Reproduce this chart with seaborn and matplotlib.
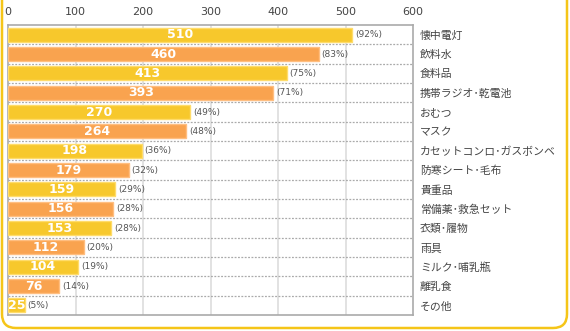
import matplotlib
matplotlib.use("Agg")
import matplotlib.pyplot as plt
import seaborn as sns
import pandas as pd
from matplotlib.patches import FancyBboxPatch

categories = ["懐中電灯", "飲料水", "食料品", "携帯ラジオ･乾電池", "おむつ", "マスク",
              "カセットコンロ･ガスボンベ", "防寒シート･毛布", "貴重品", "常備薬･救急セット",
              "衣類･履物", "雨具", "ミルク･哺乳瓶", "離乳食", "その他"]
values = [510, 460, 413, 393, 270, 264, 198, 179, 159, 156, 153, 112, 104, 76, 25]
percents = ["(92%)", "(83%)", "(75%)", "(71%)", "(49%)", "(48%)", "(36%)", "(32%)", "(29%)",
            "(28%)", "(28%)", "(20%)", "(19%)", "(14%)", "(5%)"]
xticks = [0, 100, 200, 300, 400, 500, 600]

YELLOW = "#F7C82C"
ORANGE = "#F9A34F"
colors = [YELLOW if i % 2 == 0 else ORANGE for i in range(len(categories))]

df = pd.DataFrame({"cat": categories, "val": values})

sns.set_theme(style="white")
plt.rcParams["font.family"] = ["Noto Sans CJK JP", "DejaVu Sans"]

fig = plt.figure(figsize=(5.70, 3.31), dpi=100)

# background frame axes in pixel coordinates
bg = fig.add_axes([0, 0, 1, 1], zorder=0)
bg.set_xlim(0, 570)
bg.set_ylim(331, 0)
bg.axis("off")
frame = FancyBboxPatch((2, -30), 565, 358,
                       boxstyle="round,pad=0,rounding_size=14",
                       fill=False, edgecolor="#F5C518", linewidth=1.8)
bg.add_patch(frame)

ax = fig.add_axes([8 / 570, 1 - 315 / 331, (413 - 8) / 570, (315 - 25) / 331], zorder=1)
ax.patch.set_alpha(0)

sns.barplot(data=df, x="val", y="cat", hue="cat", palette=colors, legend=False,
            orient="h", width=0.72, ax=ax, zorder=3, saturation=1)
for patch, c in zip(ax.patches, colors):
    patch.set_edgecolor("#FFDC6A" if c == YELLOW else "#FFBE80")
    patch.set_linewidth(1.0)

ax.set_xlim(0, 600)
ax.set_ylim(len(categories) - 0.5, -0.5)
ax.xaxis.tick_top()
ax.set_xticks(xticks)
ax.set_xticklabels([str(t) for t in xticks], fontsize=8, color="#444444", family="DejaVu Sans")
ax.tick_params(axis="x", length=0, pad=6)
ax.set_xlabel("")
ax.set_ylabel("")
ax.set_yticks(range(len(categories)))
ax.yaxis.tick_right()
ax.set_yticklabels(categories, fontsize=7.8, color="#444444")
ax.tick_params(axis="y", length=0, pad=5)

# grid lines
for t in xticks[1:-1]:
    ax.axvline(t, color="#DDDDDD", lw=1.2, zorder=1)
for i in range(len(categories) - 1):
    ax.axhline(i + 0.5, color="#AAAAAA", lw=0.9, ls=(0, (1.5, 1.2)), zorder=2)

for s in ["left", "right", "top", "bottom"]:
    ax.spines[s].set_color("#AAAAAA")
    ax.spines[s].set_linewidth(1.2)

for i, (v, p) in enumerate(zip(values, percents)):
    ax.text(v / 2, i, str(v), ha="center", va="center", color="white",
            fontsize=9, fontweight="bold", family="DejaVu Sans", zorder=5)
    ax.text(v + 4, i, p, ha="left", va="center", color="#555555",
            fontsize=6.5, family="DejaVu Sans", zorder=5)

fig.savefig("out.png", dpi=100)
